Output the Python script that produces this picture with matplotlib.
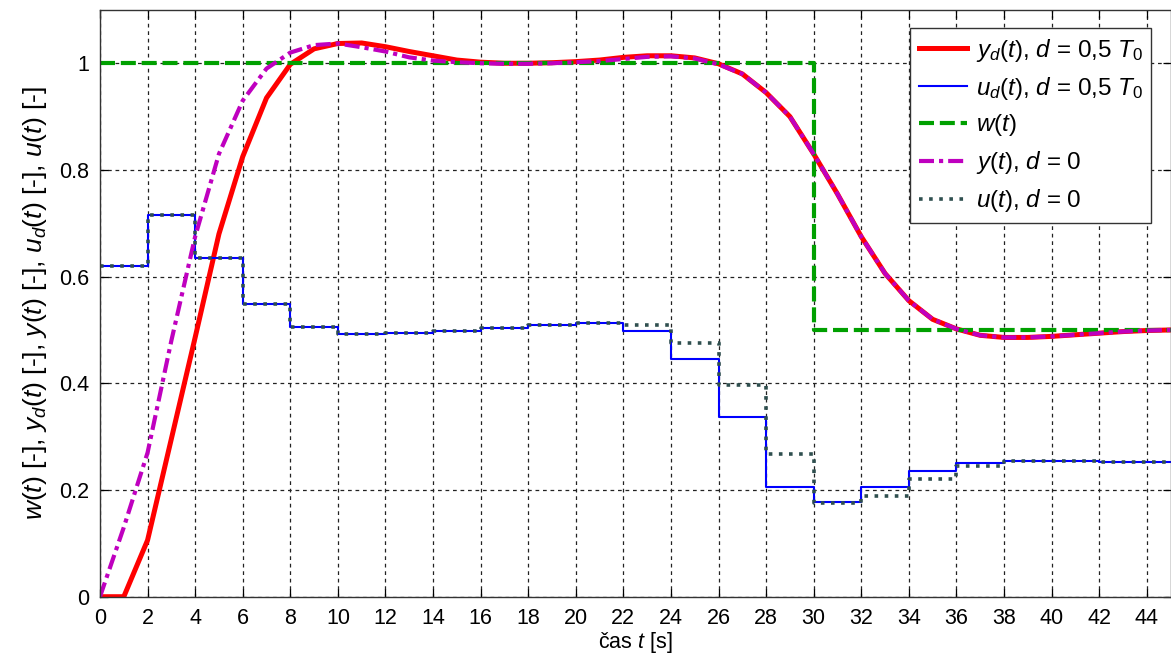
from matplotlib import pyplot as plt
import numpy as np

# sampling instants of the controller (T0 = 2 s) and the last time point
t_steps = [0, 2, 4, 6, 8, 10, 12, 14, 16, 18, 20, 22, 24, 26, 28, 30, 32, 34, 36, 38, 40, 42, 44, 45]

# control signal with the delay d = 0.5 T0
u_d = [0.620, 0.715, 0.634, 0.549, 0.506, 0.492, 0.494, 0.499, 0.503, 0.510, 0.514, 0.499,
       0.445, 0.336, 0.206, 0.177, 0.206, 0.236, 0.250, 0.254, 0.254, 0.253, 0.252, 0.252]
# control signal without delay
u = [0.620, 0.715, 0.634, 0.549, 0.506, 0.492, 0.494, 0.499, 0.503, 0.510, 0.514, 0.509,
     0.476, 0.397, 0.268, 0.175, 0.188, 0.221, 0.245, 0.254, 0.254, 0.253, 0.252, 0.252]

# reference signal
w_t = [0, 30, 45]
w = [1.0, 0.5, 0.5]

# plant output, 1 s grid
t_out = list(range(0, 46))
y_d = [0.0, 0.0, 0.106, 0.296, 0.486, 0.68, 0.825, 0.935, 0.998, 1.027, 1.037, 1.038,
       1.031, 1.022, 1.014, 1.006, 1.002, 1.0, 1.0, 1.001, 1.003, 1.006, 1.011, 1.014,
       1.014, 1.01, 0.999, 0.98, 0.945, 0.9, 0.83, 0.755, 0.675, 0.606, 0.555, 0.52,
       0.502, 0.49, 0.486, 0.486, 0.488, 0.491, 0.494, 0.497, 0.499, 0.5]
y = [0.0, 0.13, 0.27, 0.48, 0.675, 0.83, 0.93, 0.99, 1.02, 1.034, 1.037, 1.03,
     1.022, 1.011, 1.005, 1.002, 1.0, 0.999, 0.999, 1.0, 1.002, 1.004, 1.008, 1.012,
     1.013, 1.009, 0.998, 0.98, 0.945, 0.9, 0.83, 0.755, 0.675, 0.606, 0.555, 0.52,
     0.502, 0.49, 0.486, 0.486, 0.488, 0.491, 0.494, 0.497, 0.499, 0.5]


def main():
    plt.rcParams['font.family'] = 'Liberation Sans'
    plt.rcParams['mathtext.fontset'] = 'custom'
    plt.rcParams['mathtext.rm'] = 'Liberation Sans'
    plt.rcParams['mathtext.it'] = 'Liberation Sans:italic'

    fig = plt.figure(figsize=(11.71, 6.62), dpi=100)
    ax = fig.add_axes([100 / 1171, 1 - 596.7 / 662, 1070.5 / 1171, 586.8 / 662])

    ax.plot(t_out, y_d, color='red', lw=3.6, label=r'$y_d(t)$, $d$ = 0,5 $T_0$')
    ax.plot(t_steps, u_d, color='blue', lw=1.5, drawstyle='steps-post',
            label=r'$u_d(t)$, $d$ = 0,5 $T_0$')
    ax.plot(w_t, w, color='#00a000', lw=3, drawstyle='steps-post',
            dashes=(3.6, 1.4), label=r'$w(t)$')
    ax.plot(t_out, y, color='#bf00bf', lw=3, dashes=(3.6, 1.2, 1, 1.2),
            label=r'$y(t)$, $d$ = 0')
    ax.plot(t_steps, u, color='#2f4f4f', lw=2.6, drawstyle='steps-post',
            dashes=(1, 1.8), label=r'$u(t)$, $d$ = 0')

    ax.set_xlim(0, 45)
    ax.set_ylim(0, 1.1)
    ax.set_xticks(np.arange(0, 46, 2))
    ax.set_yticks([0, 0.2, 0.4, 0.6, 0.8, 1.0])
    ax.set_yticklabels(['0', '0.2', '0.4', '0.6', '0.8', '1'])
    ax.tick_params(direction='in', top=True, right=True, length=6, width=0.9,
                   labelsize=15.5, pad=8)
    ax.grid(True, color='#222222', lw=0.9, linestyle=(0, (3, 3)))
    for s in ax.spines.values():
        s.set_color('#333333')
        s.set_linewidth(1)

    ax.set_xlabel(r'čas $t$ [s]', fontsize=15.5, labelpad=1)
    ax.set_ylabel(r'$w(t)$ [-], $y_d(t)$ [-], $y(t)$ [-], $u_d(t)$ [-], $u(t)$ [-]',
                  fontsize=19, labelpad=7)

    leg = ax.legend(loc='upper right', bbox_to_anchor=(0.982, 0.969), borderaxespad=0,
                    fontsize=17.5, handlelength=2.0, fancybox=False, framealpha=1,
                    edgecolor='#333333', borderpad=0.35, labelspacing=0.45,
                    handletextpad=0.35)
    leg.get_frame().set_linewidth(1)

    fig.savefig('out.png', dpi=100)


if __name__ == "__main__":
    main()
